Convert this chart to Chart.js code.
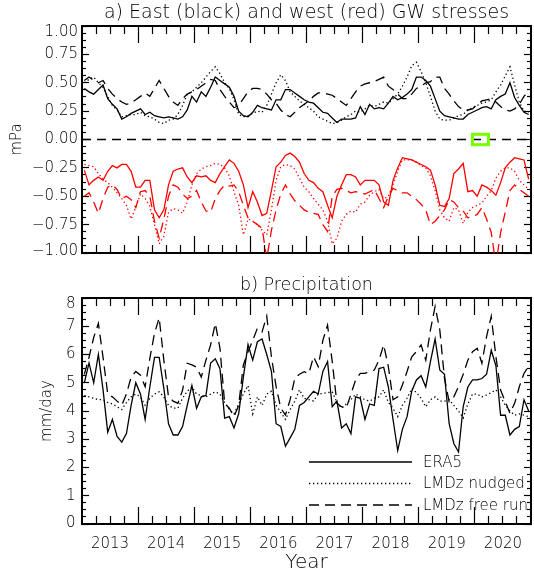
<!DOCTYPE html>
<html>
<head>
<meta charset="utf-8">
<script src="https://cdn.jsdelivr.net/npm/chart.js@4.4.0/dist/chart.umd.min.js"></script>
<style>
  html, body { margin: 0; padding: 0; background: #fff; }
  #wrap { position: relative; width: 534px; height: 571px; }
  canvas { position: absolute; left: 0; }
  #gw { top: 0; }
  #pr { top: 262px; }
</style>
</head>
<body>
<div id="wrap">
  <canvas id="gw" width="534" height="262"></canvas>
  <canvas id="pr" width="534" height="309"></canvas>
</div>
<script>
// monthly values, one per month from the left edge of the axis
const eastEra5 = [0.45,0.42,0.40,0.44,0.48,0.36,0.31,0.27,0.18,0.20,
  0.23,0.25,0.27,0.22,0.24,0.21,0.20,0.19,0.20,0.19,
  0.18,0.20,0.26,0.38,0.33,0.42,0.38,0.46,0.55,0.52,
  0.49,0.46,0.38,0.25,0.21,0.20,0.24,0.30,0.28,0.27,
  0.26,0.35,0.35,0.44,0.44,0.41,0.38,0.35,0.33,0.32,
  0.28,0.24,0.23,0.19,0.15,0.18,0.18,0.18,0.19,0.29,
  0.22,0.31,0.27,0.28,0.27,0.32,0.38,0.35,0.37,0.40,
  0.44,0.55,0.55,0.52,0.47,0.36,0.25,0.21,0.20,0.19,
  0.18,0.18,0.22,0.24,0.26,0.28,0.29,0.27,0.35,0.38,
  0.40,0.50,0.37,0.30,0.24,0.22];
const eastNudged = [0.50,0.53,0.55,0.50,0.46,0.38,0.30,0.26,0.20,0.21,
  0.22,0.22,0.24,0.21,0.20,0.18,0.15,0.14,0.17,0.18,
  0.22,0.30,0.40,0.42,0.46,0.50,0.55,0.60,0.64,0.58,
  0.50,0.45,0.35,0.22,0.20,0.21,0.23,0.25,0.24,0.30,
  0.40,0.50,0.57,0.52,0.42,0.38,0.34,0.31,0.28,0.25,
  0.20,0.18,0.16,0.14,0.15,0.17,0.20,0.22,0.25,0.24,
  0.27,0.30,0.29,0.31,0.33,0.32,0.36,0.40,0.47,0.55,
  0.65,0.68,0.60,0.50,0.38,0.25,0.18,0.17,0.17,0.19,
  0.21,0.22,0.26,0.28,0.30,0.32,0.33,0.35,0.42,0.48,
  0.56,0.64,0.48,0.33,0.25,0.24];
const eastFree = [0.52,0.55,0.52,0.50,0.52,0.45,0.40,0.36,0.33,0.31,
  0.32,0.35,0.38,0.41,0.38,0.45,0.52,0.45,0.38,0.33,
  0.30,0.36,0.40,0.42,0.44,0.47,0.50,0.53,0.52,0.44,
  0.38,0.33,0.28,0.30,0.36,0.42,0.45,0.45,0.44,0.40,
  0.35,0.32,0.26,0.22,0.20,0.24,0.28,0.31,0.34,0.38,
  0.41,0.41,0.40,0.39,0.36,0.33,0.30,0.36,0.42,0.47,
  0.49,0.50,0.51,0.53,0.55,0.47,0.44,0.40,0.36,0.36,
  0.40,0.45,0.47,0.50,0.51,0.55,0.55,0.45,0.40,0.34,
  0.29,0.26,0.26,0.27,0.31,0.34,0.35,0.36,0.33,0.29,
  0.26,0.25,0.27,0.31,0.38,0.43];
const westEra5 = [-0.27,-0.40,-0.36,-0.33,-0.36,-0.28,-0.23,-0.25,-0.22,-0.22,
  -0.28,-0.42,-0.42,-0.36,-0.36,-0.62,-0.69,-0.62,-0.40,-0.28,
  -0.26,-0.25,-0.33,-0.38,-0.32,-0.33,-0.32,-0.36,-0.38,-0.30,
  -0.24,-0.18,-0.21,-0.28,-0.40,-0.60,-0.46,-0.55,-0.67,-0.65,
  -0.45,-0.24,-0.20,-0.14,-0.12,-0.15,-0.20,-0.30,-0.36,-0.38,
  -0.43,-0.46,-0.58,-0.69,-0.50,-0.40,-0.31,-0.31,-0.33,-0.40,
  -0.36,-0.36,-0.36,-0.40,-0.55,-0.58,-0.36,-0.25,-0.16,-0.17,
  -0.18,-0.20,-0.22,-0.24,-0.27,-0.40,-0.58,-0.59,-0.52,-0.30,
  -0.26,-0.21,-0.46,-0.45,-0.50,-0.40,-0.42,-0.45,-0.49,-0.38,
  -0.25,-0.20,-0.16,-0.17,-0.18,-0.35];
const westNudged = [-0.22,-0.23,-0.24,-0.30,-0.35,-0.38,-0.42,-0.47,-0.52,-0.58,
  -0.70,-0.60,-0.48,-0.52,-0.59,-0.75,-0.92,-0.85,-0.64,-0.61,
  -0.62,-0.65,-0.55,-0.40,-0.30,-0.26,-0.24,-0.23,-0.21,-0.22,
  -0.25,-0.32,-0.46,-0.58,-0.84,-0.70,-0.72,-0.75,-0.80,-0.84,
  -0.62,-0.36,-0.24,-0.22,-0.23,-0.26,-0.34,-0.42,-0.46,-0.52,
  -0.57,-0.62,-0.72,-0.92,-0.87,-0.72,-0.66,-0.63,-0.64,-0.57,
  -0.55,-0.49,-0.46,-0.44,-0.52,-0.50,-0.40,-0.28,-0.18,-0.18,
  -0.18,-0.20,-0.23,-0.25,-0.32,-0.45,-0.62,-0.69,-0.72,-0.60,
  -0.62,-0.74,-0.64,-0.60,-0.58,-0.56,-0.50,-0.45,-0.34,-0.28,
  -0.25,-0.25,-0.28,-0.36,-0.40,-0.44];
const westFree = [-0.50,-0.47,-0.55,-0.65,-0.52,-0.42,-0.40,-0.44,-0.52,-0.50,
  -0.53,-0.60,-0.46,-0.45,-0.50,-0.72,-0.87,-0.70,-0.50,-0.40,
  -0.42,-0.48,-0.52,-0.50,-0.45,-0.55,-0.63,-0.64,-0.52,-0.45,
  -0.40,-0.41,-0.40,-0.46,-0.58,-0.69,-0.72,-0.75,-0.78,-1.05,
  -0.80,-0.62,-0.48,-0.40,-0.48,-0.54,-0.58,-0.62,-0.64,-0.65,
  -0.66,-0.75,-0.81,-0.50,-0.44,-0.43,-0.45,-0.47,-0.46,-0.47,
  -0.48,-0.46,-0.44,-0.52,-0.60,-0.50,-0.43,-0.45,-0.47,-0.47,
  -0.50,-0.53,-0.57,-0.62,-0.75,-0.72,-0.67,-0.62,-0.53,-0.55,
  -0.60,-0.63,-0.69,-0.68,-0.66,-0.60,-0.70,-0.82,-1.10,-0.82,
  -0.64,-0.45,-0.40,-0.44,-0.47,-0.50];

const precipEra5 = [5.0,5.7,5.0,6.0,4.75,3.25,3.7,3.1,2.9,3.2,
  4.2,5.0,4.6,3.7,4.85,5.9,5.9,4.8,3.55,3.15,
  3.15,3.45,4.2,4.9,4.1,4.5,4.55,5.7,5.85,5.5,
  3.75,3.8,3.4,3.9,5.2,6.35,5.8,6.45,6.55,6.0,
  5.4,3.55,3.45,2.75,3.05,3.35,4.2,4.3,4.5,4.7,
  4.6,5.4,5.75,4.15,4.35,3.4,3.55,3.2,4.5,4.45,
  3.7,4.25,4.2,5.5,5.55,4.85,3.7,2.6,3.35,3.8,
  4.7,5.1,5.25,4.85,5.75,6.55,5.45,5.3,3.55,2.85,
  2.55,4.15,4.85,5.1,5.1,5.15,5.3,6.15,5.6,3.85,
  3.85,3.15,3.35,3.45,4.4,4.0];
const precipNudged = [4.55,4.5,4.45,4.4,4.4,4.3,4.25,4.15,4.05,4.3,
  4.5,4.6,4.5,4.2,4.45,4.6,4.68,4.5,4.2,4.1,
  4.1,4.45,4.7,4.85,4.6,4.55,4.5,4.6,4.68,4.6,
  4.3,4.05,3.9,4.25,4.6,4.9,3.9,4.5,4.2,4.6,
  4.7,4.2,3.95,3.7,4.05,4.35,4.75,4.45,4.4,4.35,
  4.6,4.62,4.65,4.68,4.3,4.1,4.25,4.4,4.6,4.5,
  4.4,4.35,4.45,4.5,4.75,4.3,4.1,3.8,4.2,4.45,
  4.8,4.65,4.45,4.15,4.4,4.5,4.35,4.35,4.4,4.2,
  4.0,3.75,4.25,4.6,4.6,4.5,4.57,4.65,4.75,4.5,
  4.2,4.0,3.85,3.9,3.85,3.8];
const precipFree = [5.3,5.9,6.6,7.1,5.9,4.6,4.5,4.35,4.2,4.6,
  5.2,5.4,5.27,4.86,5.86,6.75,7.3,5.8,4.5,4.35,
  4.27,4.74,5.69,5.63,5.55,5.2,5.8,6.34,7.1,6.22,
  4.27,4.1,3.8,4.2,5.63,6.1,6.5,6.93,6.8,7.36,
  5.92,4.86,4.1,3.86,4.4,5.16,5.3,5.39,5.33,5.92,
  5.57,6.5,7.04,5.75,4.27,4.15,4.1,4.6,5.1,5.33,
  5.33,5.4,5.45,5.8,6.34,5.57,4.4,4.5,4.92,5.4,
  5.92,6.1,6.34,5.8,6.87,7.7,6.87,5.16,4.33,4.5,
  4.86,5.3,5.8,6.1,6.22,5.69,6.63,7.35,5.92,4.74,
  4.33,3.92,4.27,4.86,5.33,5.6];

const yearLabels = ['2013','2014','2015','2016','2017','2018','2019','2020'];
const seriesNames = ['ERA5', 'LMDz nudged', 'LMDz free run'];
const gwMajor = [-1, -0.75, -0.5, -0.25, 0, 0.25, 0.5, 0.75, 1];
const prMajor = [0, 1, 2, 3, 4, 5, 6, 7, 8];
const markMonth = 85.2;   // where the green box sits on the zero line

// x axis in months: 0 .. 96, points at mid-month
const months = eastEra5.map((v, i) => i + 0.5);
const yearEdges = [12, 24, 36, 48, 60, 72, 84];
const yearMid = yearLabels.map((l, i) => i * 12 + 6);
const quarters = [];
for (let m = 3; m < 96; m += 3) if (m % 12) quarters.push(m);

function minorTicks(min, max, step, majorStep) {
  const out = [];
  for (let v = min + step; v < max - 1e-9; v += step) {
    const r = v / majorStep;
    if (Math.abs(r - Math.round(r)) > 1e-6) out.push(v);
  }
  return out;
}
const gwMinor = minorTicks(-1, 1, 0.0625, 0.25);
const prMinor = minorTicks(0, 8, 0.25, 1);

Chart.defaults.font.family = "'DejaVu Sans', sans-serif";
Chart.defaults.font.weight = 300;
Chart.defaults.color = '#000';

let pts = (vals) => vals.map((v, i) => ({ x: months[i], y: v }));

const solid = { borderWidth: 1.3, borderDash: [] };
const dotted = { borderWidth: 1.3, borderDash: [1.3, 2.7] };
const dashed = { borderWidth: 1.3, borderDash: [10, 6] };

function line(vals, color, style) {
  return Object.assign({
    data: pts(vals), borderColor: color, pointRadius: 0, tension: 0, fill: false,
    xAxisID: 'x', yAxisID: 'y'
  }, style);
}

function noPad(s) { s.paddingTop = 0; s.paddingBottom = 0; s.paddingLeft = 0; s.paddingRight = 0; }

// tick-only axis, sits right on the frame, ticks point inward
function tickAxis(axis, pos, min, max, values, len, extra) {
  const horiz = axis === 'x';
  return Object.assign({
    type: 'linear', axis: axis, position: pos, min: min, max: max, weight: 0,
    afterBuildTicks: s => { s.ticks = values.map(v => ({ value: v })); },
    afterFit: s => { if (horiz) s.height = 0; else s.width = 0; noPad(s); },
    border: { display: true, color: '#000', width: 2 },
    grid: { drawOnChartArea: false, drawTicks: true, tickLength: -len, tickColor: '#000', tickWidth: 1.2 },
    ticks: { display: false, autoSkip: false }
  }, extra || {});
}

// labelShift: how far the end labels are pulled inside the frame (axis units)
function frameScales(yMin, yMax, yMajor, yMinor, yFmt, labelPad, yTitle, yTitlePad, labelShift) {
  return {
    x: tickAxis('x', 'bottom', 0, 96, yearEdges, 17),
    xMinor: tickAxis('x', 'bottom', 0, 96, quarters, 8),
    xTop: tickAxis('x', 'top', 0, 96, yearEdges, 17),
    xTopMinor: tickAxis('x', 'top', 0, 96, quarters, 8),
    y: tickAxis('y', 'left', yMin, yMax, yMajor, 0, {
      weight: 1,
      afterBuildTicks: s => {
        s.ticks = yMajor.map(v => ({
          value: v === yMax ? v - labelShift[0] : v === yMin ? v + labelShift[1] : v
        }));
      },
      afterFit: s => { s.width = 82; noPad(s); },
      grid: { display: false, drawTicks: false },
      ticks: { display: true, autoSkip: false, padding: labelPad, font: { size: 15 },
        callback: (v, i) => yFmt(yMajor[i]) },
      title: { display: true, text: yTitle, font: { size: 15 }, padding: { top: yTitlePad, bottom: 0 } }
    }),
    yMajor: tickAxis('y', 'left', yMin, yMax, yMajor, 7),
    yMinor: tickAxis('y', 'left', yMin, yMax, yMinor, 4),
    yRight: tickAxis('y', 'right', yMin, yMax, yMajor, 7),
    yRightMinor: tickAxis('y', 'right', yMin, yMax, yMinor, 4)
  };
}

const greenBox = {
  id: 'greenBox',
  afterDraw(chart) {
    const ctx = chart.ctx;
    const x = chart.scales.x.getPixelForValue(markMonth);
    const y = chart.scales.y.getPixelForValue(0);
    ctx.save();
    ctx.strokeStyle = '#77ff00';
    ctx.lineWidth = 3;
    ctx.strokeRect(x - 8, y - 5.2, 16, 10.4);
    ctx.restore();
  }
};

const lineKey = {
  id: 'lineKey',
  afterDatasetsDraw(chart) {
    const ctx = chart.ctx;
    const a = chart.chartArea;
    ctx.save();
    ctx.font = "300 15px 'DejaVu Sans'";
    ctx.fillStyle = '#000';
    ctx.textBaseline = 'middle';
    seriesNames.forEach((name, i) => {
      const ds = chart.data.datasets[i];
      const y = a.bottom - 62 + i * 21.5;
      ctx.beginPath();
      ctx.setLineDash(ds.borderDash || []);
      ctx.strokeStyle = ds.borderColor;
      ctx.lineWidth = ds.borderWidth;
      ctx.moveTo(a.left + 227, y);
      ctx.lineTo(a.left + 330, y);
      ctx.stroke();
      ctx.fillText(name, a.left + 341, y + 1);
    });
    ctx.restore();
  }
};

const common = {
  responsive: false,
  animation: false,
  devicePixelRatio: 1,
  events: []
};

// a) GW stresses
new Chart(document.getElementById('gw'), {
  type: 'line',
  data: {
    datasets: [
      line(eastEra5, '#000', solid),
      line(eastNudged, '#000', dotted),
      line(eastFree, '#000', dashed),
      line(westEra5, '#ff0000', solid),
      line(westNudged, '#ff0000', dotted),
      line(westFree, '#ff0000', dashed),
      Object.assign({ data: [{ x: 0, y: 0 }, { x: 96, y: 0 }], borderColor: '#000', pointRadius: 0,
        xAxisID: 'x', yAxisID: 'y' }, dashed, { borderDash: [9, 6] })
    ]
  },
  options: Object.assign({}, common, {
    layout: { padding: { left: 0, right: 3, top: 0, bottom: 9 } },
    plugins: {
      legend: { display: false },
      tooltip: { enabled: false },
      title: { display: true, fullSize: false, text: 'a) East (black) and west (red) GW stresses',
        font: { size: 19, weight: 300 }, color: '#000', padding: { top: 1.5, bottom: 1.7 } }
    },
    scales: frameScales(-1, 1, gwMajor, gwMinor,
      v => (v < 0 ? '\u2212' : '') + Math.abs(v).toFixed(2), 4, 'mPa', 8, [0.057, 0.018])
  }),
  plugins: [greenBox]
});

// b) Precipitation
const prScales = frameScales(0, 8, prMajor, prMinor, v => String(v), 6.5, 'mm/day', 38, [0.23, 0.03]);
prScales.xLabel = tickAxis('x', 'bottom', 0, 96, yearMid, 0, {
  weight: 1,
  afterFit: s => { s.height = 47; noPad(s); },
  border: { display: false },
  grid: { display: false, drawTicks: false },
  ticks: { display: true, autoSkip: false, maxRotation: 0, padding: 11, font: { size: 15 },
    callback: v => yearLabels[(v - 6) / 12] },
  title: { display: true, text: 'Year', font: { size: 20 }, padding: { top: 0, bottom: -4 } }
});

new Chart(document.getElementById('pr'), {
  type: 'line',
  data: {
    datasets: [
      line(precipEra5, '#000', solid),
      line(precipNudged, '#000', dotted),
      line(precipFree, '#000', dashed)
    ]
  },
  options: Object.assign({}, common, {
    layout: { padding: { left: 0, right: 3, top: 0, bottom: 0 } },
    plugins: {
      legend: { display: false },
      tooltip: { enabled: false },
      title: { display: true, fullSize: false, text: 'b) Precipitation',
        font: { size: 17.5, weight: 300 }, color: '#000', padding: { top: 12.5, bottom: 2.5 } }
    },
    scales: prScales
  }),
  plugins: [lineKey]
});
</script>
</body>
</html>
